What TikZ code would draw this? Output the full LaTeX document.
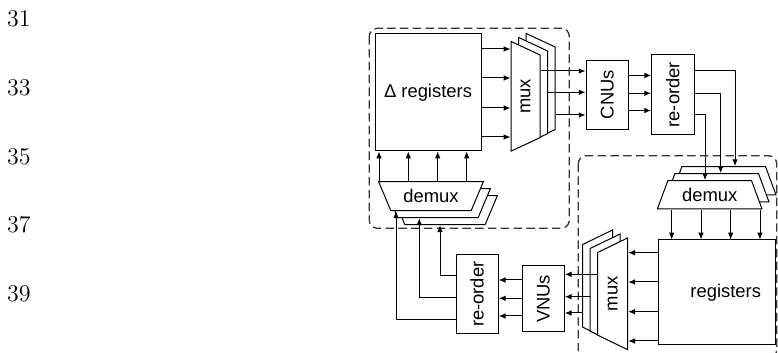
\documentclass[tikz,border=0pt]{standalone}
\usepackage{fontspec}
\usepackage{graphicx}
\usepackage{tikz}
\usetikzlibrary{arrows.meta, shapes.geometric}
\newfontfamily\boxfont{Liberation Sans}

\begin{document}
\begin{tikzpicture}[
    x=0.5pt, y=-0.5pt, line width=0.5pt,
    box/.style={draw, fill=white, inner sep=0pt, font=\boxfont\fontsize{9.2}{11}\selectfont},
    trap/.style={draw, fill=white, trapezium, trapezium stretches=true, inner sep=1pt,
                 font=\boxfont\fontsize{9.2}{11}\selectfont},
    muxt/.style={trap, rotate=90, minimum width=55pt, minimum height=14.5pt, trapezium angle=114.2},
    muxb/.style={trap, rotate=90, minimum width=56pt, minimum height=15pt, trapezium angle=64.2},
    dmxt/.style={trap, minimum width=52.5pt, minimum height=14.5pt, trapezium angle=117.3},
    dmxb/.style={trap, minimum width=52.5pt, minimum height=14.2pt, trapezium angle=67},
    grp/.style={draw=black!80, line width=0.65pt, dash pattern=on 4.2pt off 2.2pt, rounded corners=4pt},
    arr/.style={-{Latex[length=3.4pt,width=2.8pt]}},
    lnum/.style={inner sep=0pt, font=\fontsize{12}{14}\selectfont}
]
\useasboundingbox (0,0) rectangle (778,353);

% line numbers
\foreach \n [count=\i from 0] in {31,33,35,37,39}
  \node[lnum, anchor=base west] (ln\n) at (6.5,26.7+68.75*\i) {\n};

% groups
\draw[grp] (369.3,28.3) rectangle (569.3,228.3);
\draw[grp] (578.3,155.7) rectangle (776.7,358);

% boxes
\node[box, minimum width=53pt, minimum height=58.5pt] (dreg) at (428,92.5) {Δ registers};
\node[box, minimum width=21.15pt, minimum height=34.65pt] (cnu) at (607.2,94.7) {\rotatebox{90}{CNUs}};
\node[box, minimum width=21.15pt, minimum height=39.65pt] (rot) at (672.85,94.65) {\rotatebox{90}{re-order}};
\node[box, minimum width=58.7pt, minimum height=52.5pt] (reg) at (717,292.5) {\phantom{Δ }registers};
\node[box, minimum width=20.8pt, minimum height=32.85pt] (vnu) at (543.5,298.85) {\rotatebox{90}{VNUs}};
\node[box, minimum width=21.15pt, minimum height=39.15pt] (rob) at (477.15,294.15) {\rotatebox{90}{re-order}};

% stacked mux / demux
\foreach \k in {2,1}
  \node[muxt] (tmux\k) at (525.5+7.5*\k,96.3-4*\k) {\phantom{mux}};
\node[muxt] (tmux0) at (525.5,96.3) {mux};

\foreach \k in {2,1}
  \node[muxb] (bmux\k) at (612.7-7.5*\k,293.8-4*\k) {\phantom{mux}};
\node[muxb] (bmux0) at (612.7,293.8) {mux};

\foreach \k in {2,1}
  \node[dmxt] (tdmx\k) at (431+7*\k,196.2+7*\k) {\phantom{demux}};
\node[dmxt] (tdmx0) at (431,196.2) {demux};

\foreach \k in {2,1}
  \node[dmxb] (bdmx\k) at (709.7+7*\k,194.8-7*\k) {\phantom{demux}};
\node[dmxb] (bdmx0) at (709.7,194.8) {demux};

% check node side
\foreach \y in {49,78,108,137}
  \draw[arr] (dreg.east |- 0,\y) -- (tmux0.north |- 0,\y);
\draw[arr] (tmux0.south |- 0,71) -- (cnu.west |- 0,71);
\draw[arr] (tmux1.south |- 0,92.3) -- (cnu.west |- 0,92.3);
\draw[arr] (tmux2.south |- 0,115) -- (cnu.west |- 0,115);
\foreach \y in {75.5,93.3,110.5}
  \draw[arr] (cnu.east |- 0,\y) -- (rot.west |- 0,\y);
\draw[arr] (rot.east |- 0,71) -| (bdmx2.north -| 735,0);
\draw[arr] (rot.east |- 0,93.3) -| (bdmx1.north -| 720.7,0);
\draw[arr] (rot.east |- 0,115) -| (bdmx0.north -| 705,0);
\foreach \x in {671.7,701,730.7,760}
  \draw[arr] (bdmx0.south -| \x,0) -- (reg.north -| \x,0);

% variable node side
\foreach \y in {252.7,282,311.7,341}
  \draw[arr] (reg.west |- 0,\y) -- (bmux0.south |- 0,\y);
\draw[arr] (bmux0.north |- 0,274.3) -- (vnu.east |- 0,274.3);
\draw[arr] (bmux1.north |- 0,296.7) -- (vnu.east |- 0,296.7);
\draw[arr] (bmux2.north |- 0,313) -- (vnu.east |- 0,313);
\foreach \y in {280,298.3,316}
  \draw[arr] (vnu.west |- 0,\y) -- (rob.east |- 0,\y);
\draw[arr] (rob.west |- 0,276) -| (tdmx2.south -| 440,0);
\draw[arr] (rob.west |- 0,297.3) -| (tdmx1.south -| 419.3,0);
\draw[arr] (rob.west |- 0,319.3) -| (tdmx0.south -| 396,0);
\foreach \x in {379,408.3,437.7,466.7}
  \draw[arr] (tdmx0.north -| \x,0) -- (dreg.south -| \x,0);
\end{tikzpicture}
\end{document}
